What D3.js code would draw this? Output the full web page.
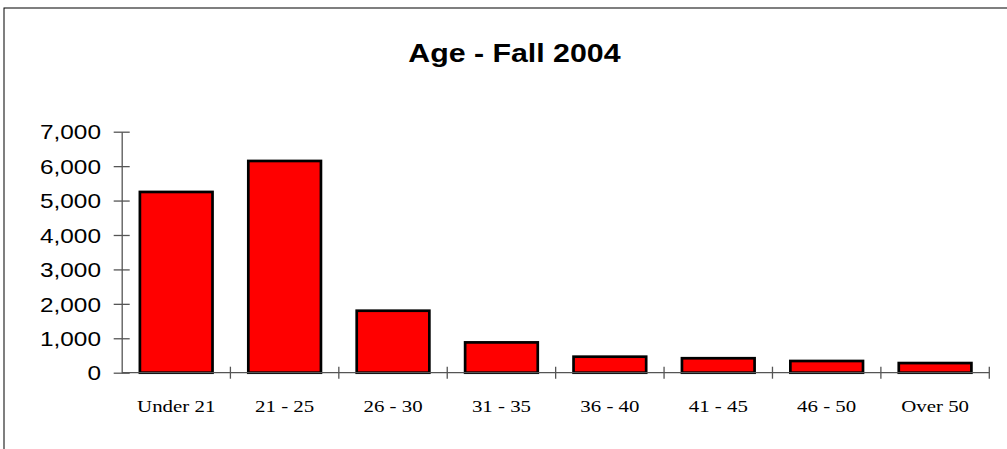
<!DOCTYPE html>
<html><head><meta charset="utf-8">
<script src="https://cdn.jsdelivr.net/npm/d3@7"></script>
<style>body{margin:0;background:#fff;} svg{display:block;}</style>
</head><body>
<svg id="chart" width="1007" height="449"></svg>
<script>
const title = "Age - Fall 2004";
const categories = ["Under 21","21 - 25","26 - 30","31 - 35","36 - 40","41 - 45","46 - 50","Over 50"];
const values = [5250, 6150, 1800, 880, 465, 420, 340, 280];
const yTicks = [0,1000,2000,3000,4000,5000,6000,7000];

const svg = d3.select("#chart");
svg.append("rect").attr("x",4).attr("y",8).attr("width",1010).attr("height",460)
  .attr("fill","none").attr("stroke","#000").attr("stroke-width",1);

const sans = "Liberation Sans, Arial, sans-serif";
const serif = "Liberation Serif, Times New Roman, serif";

svg.append("text").attr("transform","translate(514.4,61.7) scale(1.18,1)").attr("text-anchor","middle")
  .attr("font-family",sans).attr("font-weight","bold")
  .attr("font-size",25.7).text(title);

const x = d3.scaleBand().domain(categories).range([122,989.3]).paddingInner(0.33).paddingOuter(0.165);
const y = d3.scaleLinear().domain([0,7000]).range([372.7,131.7]);

svg.append("g").selectAll("rect").data(values).join("rect")
  .attr("x",(d,i)=>x(categories[i]))
  .attr("width",x.bandwidth())
  .attr("y",d=>y(d))
  .attr("height",d=>y(0)-y(d))
  .attr("fill","#ff0000").attr("stroke","#000").attr("stroke-width",2.7);

// y axis
const ya = svg.append("g").attr("transform","translate(121.7,0)")
  .call(d3.axisLeft(y).tickValues(yTicks).tickSize(8).tickSizeOuter(0).tickFormat(d3.format(",")));
ya.select(".domain").attr("stroke","#555").attr("stroke-width",1.3);
ya.selectAll(".tick line").attr("x2",8).attr("x1",-8).attr("stroke","#555").attr("stroke-width",1.3);
ya.selectAll(".tick text").attr("x",null).attr("dy","0.36em")
  .attr("transform","translate(-20.7,0) scale(1.22,1)")
  .attr("font-family",sans).attr("font-size",20).attr("fill","#000");

// x axis
const xb = d3.scaleLinear().domain([0,8]).range([122,989.3]);
const xa = svg.append("g").attr("transform","translate(0,372.7)");
xa.append("line").attr("x1",122).attr("x2",989.3).attr("stroke","#555").attr("stroke-width",1.3);
xa.selectAll("line.tk").data(d3.range(1,9)).join("line").attr("class","tk")
  .attr("x1",d=>xb(d)).attr("x2",d=>xb(d)).attr("y1",-6).attr("y2",6)
  .attr("stroke","#555").attr("stroke-width",1.3);
xa.selectAll("text").data(categories).join("text")
  .attr("transform",d=>`translate(${x(d)+x.bandwidth()/2},39) scale(1.18,1)`).attr("text-anchor","middle")
  .attr("font-family",serif).attr("font-size",17.7).text(d=>d);
</script>
</body></html>
